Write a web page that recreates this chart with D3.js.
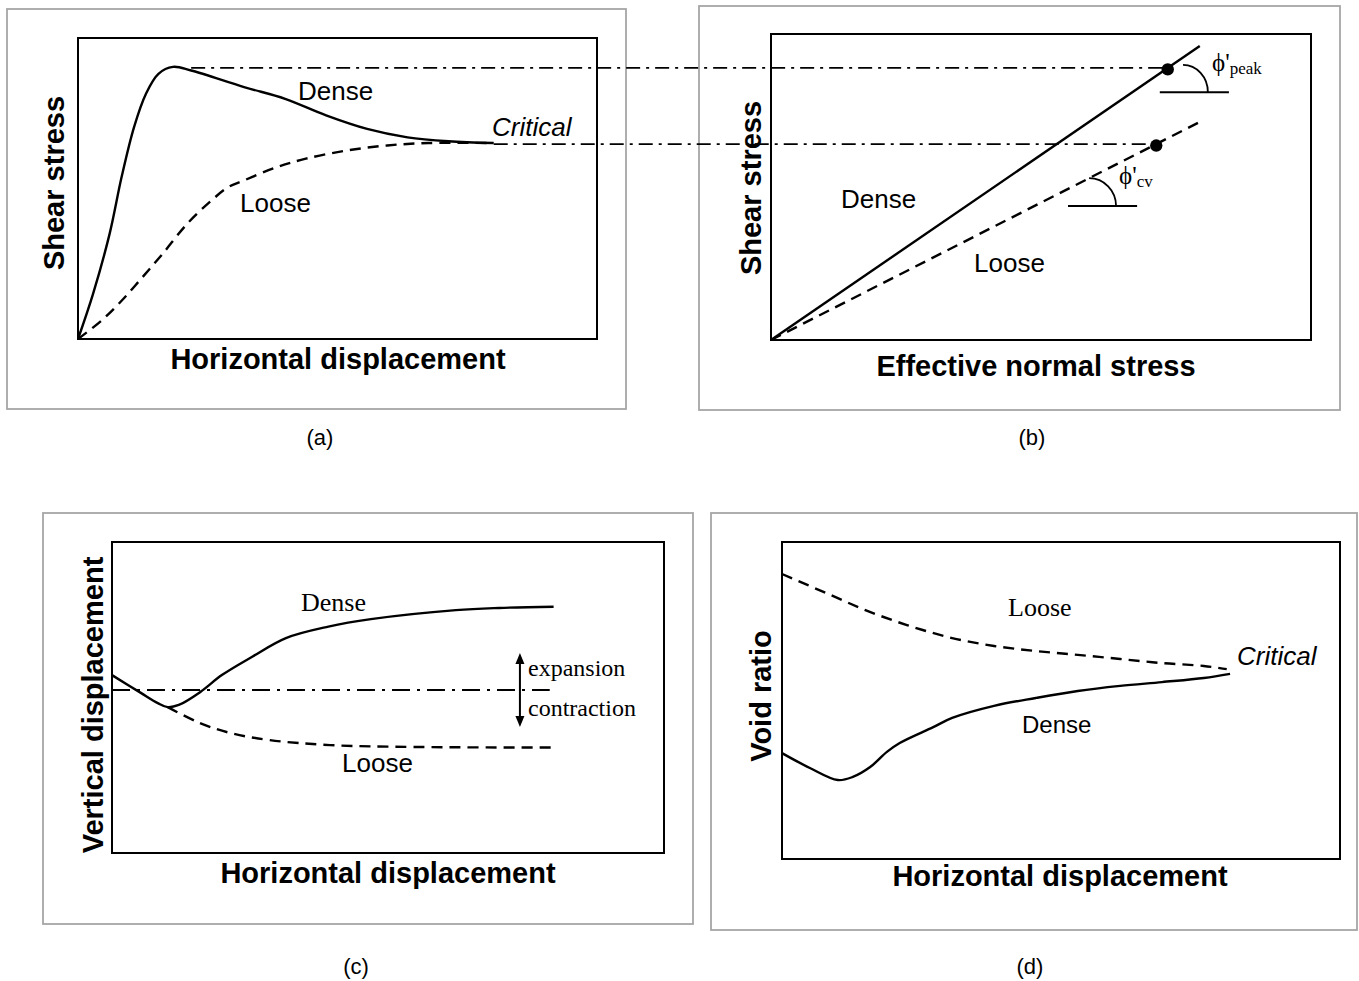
<!DOCTYPE html>
<html><head><meta charset="utf-8">
<script src="https://cdn.jsdelivr.net/npm/d3@7"></script>
<style>body{margin:0;background:#fff} svg{display:block}</style>
</head><body><svg id="chart" width="1359" height="981"></svg>
<script>
// ---------------- data (schematic values, 0-100 units) ----------------
const captions = ["(a)", "(b)", "(c)", "(d)"];

// (a) shear stress vs horizontal displacement
const denseShearA = [[0,0],[2.9,15],[6.1,35],[8.4,53.8],[10.8,70.4],[13.1,81.5],[15.5,88.1],[18.3,90.4],[21.8,89.2],[32,83.7],[39.9,79.8],[47.8,74.3],[55.7,69.8],[63.5,67],[71.4,65.7],[80.1,65.1]];
const looseShearA = [[0,0],[4.5,6.1],[8.4,12.7],[12.4,20.5],[16.3,28.3],[21,38.2],[25.7,46],[28.9,50.4],[32,52.7],[38.3,57.1],[43.9,59.9],[51.7,62.6],[59.6,64.3],[67.5,65.1],[80.1,65.1]];
const peakConnectorStartA = 21.8;   // x where the peak-stress projection starts

// (b) failure envelopes
const denseEnvelopeB = [[0,0],[79.4,96.1]];
const looseEnvelopeB = [[0,0],[79.1,71.0]];

// (c) vertical displacement vs horizontal displacement
const denseVertC = [[0,57.2],[5.3,51.4],[8.3,48.2],[10.1,46.9],[12.1,47.6],[16.1,51.9],[19.9,57.2],[25.4,63.1],[31.5,69.1],[39.2,72.8],[46.9,75.2],[62.3,78.1],[70.1,78.8],[80,79.2]];
const looseVertC = [[10.1,46.9],[15.9,41.8],[21.4,38.6],[28.6,36.3],[39.5,34.7],[54.7,34.1],[80.1,33.9]];
const zeroLineC = [[0,52.4],[79.3,52.4]];
const volumeArrowC = [[73.9,64.3],[73.9,40.5]];

// (d) void ratio vs horizontal displacement
const looseVoidD = [[0,89.9],[7.9,83.9],[15.4,78.2],[22.9,73.5],[30.5,69.7],[38,67.2],[45.5,65.6],[53,64.4],[60.6,63.1],[68.1,61.8],[75.6,60.9],[79.7,59.9]];
const denseVoidD = [[0,33.4],[5,28.7],[10,24.9],[12.7,25.9],[15.8,29],[18.8,33.8],[21.1,36.6],[27.1,41.6],[30.5,44.5],[38,48.3],[45.5,50.8],[53,53],[60.6,54.6],[68.1,55.8],[75.6,57.1],[80.3,58.4]];

// ---------------- layout ----------------
const svg = d3.select("#chart");
const SANS = "'Liberation Sans', Arial, sans-serif";
const SERIF = "'Liberation Serif', 'Times New Roman', serif";
const DASH = "11,7";
const DASHDOT = "14,6,3,6";
const LW = 2.4;

const layout = {
  a: {outer:[7,9,626,409],   inner:[78,38,597,339]},
  b: {outer:[699,6,1340,410], inner:[771,34,1311,340]},
  c: {outer:[43,513,693,924], inner:[112,542,664,853]},
  d: {outer:[711,513,1357,930], inner:[782,542,1340,859]}
};

function makePanel(L) {
  const [x0,y0,x1,y1] = L.inner;
  const [ox0,oy0,ox1,oy1] = L.outer;
  svg.append("rect").attr("x",ox0).attr("y",oy0).attr("width",ox1-ox0).attr("height",oy1-oy0)
    .attr("fill","none").attr("stroke","#a6a6a6").attr("stroke-width",1.8);
  const x = d3.scaleLinear().domain([0,100]).range([x0,x1]);
  const y = d3.scaleLinear().domain([0,100]).range([y1,y0]);
  const g = svg.append("g");
  return {x, y, g};
}
function frame(P, L) {
  const [x0,y0,x1,y1] = L.inner;
  P.g.append("rect").attr("x",x0).attr("y",y0).attr("width",x1-x0).attr("height",y1-y0)
    .attr("fill","none").attr("stroke","#000").attr("stroke-width",2);
}
function curve(P, data, dash, width, smooth=true) {
  const line = d3.line().x(d=>P.x(d[0])).y(d=>P.y(d[1]))
    .curve(smooth ? d3.curveCatmullRom.alpha(0.5) : d3.curveLinear);
  P.g.append("path").attr("d", line(data)).attr("fill","none").attr("stroke","#000")
    .attr("stroke-width", width || LW).attr("stroke-dasharray", dash || null)
    .attr("stroke-linejoin","round");
}
function text(str, x, y, opts={}) {
  const t = svg.append("text").attr("x",x).attr("y",y).text(str)
    .attr("font-family", opts.family || SANS).attr("font-size", opts.size || 26)
    .attr("font-weight", opts.weight || "normal").attr("font-style", opts.style || "normal")
    .attr("text-anchor", opts.anchor || "start").attr("fill","#000");
  if (opts.rotate) t.attr("transform", `rotate(-90,${x},${y})`);
  return t;
}
function axisLabels(xl, xc, xb, yl, yc, yb) {
  text(xl, xc, xb, {weight:"bold", size:29, anchor:"middle"});
  text(yl, yb, yc, {weight:"bold", size:29, anchor:"middle", rotate:true});
}

// ---------------- (a) ----------------
const A = makePanel(layout.a);
curve(A, looseShearA, DASH);
curve(A, denseShearA);
frame(A, layout.a);
text("Dense", 298, 100);
text("Critical", 492, 136, {style:"italic"});
text("Loose", 240, 212);
axisLabels("Horizontal displacement", 338, 369, "Shear stress", 183, 64);

// ---------------- (b) ----------------
const B = makePanel(layout.b);
curve(B, looseEnvelopeB, DASH, LW, false);
curve(B, denseEnvelopeB, null, LW, false);
frame(B, layout.b);
text("Dense", 841, 208);
text("Loose", 974, 272);
axisLabels("Effective normal stress", 1036, 376, "Shear stress", 188, 761);

// projections of peak & critical stresses from (a) to (b)
const peakTau = d3.max(denseShearA, d=>d[1]);
const critPt = denseShearA[denseShearA.length-1];
const slopeDense = denseEnvelopeB[1][1]/denseEnvelopeB[1][0];
const slopeLoose = looseEnvelopeB[1][1]/looseEnvelopeB[1][0];

function projection(xStartPx, yPx, slope) {
  const tauB = B.y.invert(yPx);
  const sigB = tauB / slope;
  const xEnd = B.x(sigB);
  svg.append("line").attr("x1",xStartPx).attr("x2",xEnd).attr("y1",yPx).attr("y2",yPx)
    .attr("stroke","#000").attr("stroke-width",1.7).attr("stroke-dasharray",DASHDOT);
  svg.append("circle").attr("cx",xEnd).attr("cy",yPx+1.5).attr("r",6.2).attr("fill","#000");
}
projection(A.x(peakConnectorStartA), A.y(peakTau)+1, slopeDense);
projection(A.x(critPt[0]), A.y(critPt[1])+1, slopeLoose);

// friction angle symbols
function angleMark(P, h0, h1, hy, from, to) {
  P.g.append("line").attr("x1",P.x(h0)).attr("x2",P.x(h1)).attr("y1",P.y(hy)).attr("y2",P.y(hy))
    .attr("stroke","#000").attr("stroke-width",2);
  const fx=P.x(from[0]), fy=P.y(from[1]), tx=P.x(to[0]), ty=P.y(to[1]);
  P.g.append("path").attr("d",`M${fx},${fy} A${tx-fx},${ty-fy} 0 0 1 ${tx},${ty}`)
    .attr("fill","none").attr("stroke","#000").attr("stroke-width",1.8);
}
angleMark(B, 72, 84.8, 81, [76.3,89.9], [80.9,81]);
angleMark(B, 55, 67.8, 43.8, [58.9,52.9], [63.9,43.8]);

function phiLabel(sub, x, y) {
  const t = svg.append("text").attr("x",x).attr("y",y).attr("font-family",SERIF).attr("font-size",25);
  t.append("tspan").text("\u03D5'");
  t.append("tspan").text(sub).attr("font-size",17).attr("dy",3);
}
phiLabel("peak", 1212, 71);
phiLabel("cv", 1119, 184);

// ---------------- (c) ----------------
const C = makePanel(layout.c);
curve(C, zeroLineC, "18,7,3,7", 2, false);
curve(C, looseVertC, DASH);
curve(C, denseVertC);
frame(C, layout.c);
// double arrow
(function(){
  const xa = C.x(volumeArrowC[0][0]), yTop = C.y(volumeArrowC[0][1]), yBot = C.y(volumeArrowC[1][1]);
  C.g.append("line").attr("x1",xa).attr("x2",xa).attr("y1",yTop+8).attr("y2",yBot-8)
    .attr("stroke","#000").attr("stroke-width",2);
  C.g.append("path").attr("d",`M${xa},${yTop} L${xa-4.5},${yTop+11} L${xa+4.5},${yTop+11} Z`).attr("fill","#000");
  C.g.append("path").attr("d",`M${xa},${yBot} L${xa-4.5},${yBot-11} L${xa+4.5},${yBot-11} Z`).attr("fill","#000");
})();
text("Dense", 301, 611, {family:SERIF, size:26});
text("expansion", 528, 676, {family:SERIF, size:24});
text("contraction", 528, 716, {family:SERIF, size:24});
text("Loose", 342, 772);
axisLabels("Horizontal displacement", 388, 883, "Vertical displacement", 705, 103);

// ---------------- (d) ----------------
const D = makePanel(layout.d);
curve(D, looseVoidD, DASH);
curve(D, denseVoidD);
frame(D, layout.d);
text("Loose", 1008, 616, {family:SERIF, size:26});
text("Critical", 1237, 665, {style:"italic"});
text("Dense", 1022, 733, {size:24});
axisLabels("Horizontal displacement", 1060, 886, "Void ratio", 696, 771);

// ---------------- captions ----------------
const capPos = [[320,445],[1032,445],[356,974],[1030,974]];
captions.forEach((c,i)=>text(c, capPos[i][0], capPos[i][1], {size:22, anchor:"middle"}));
</script></body></html>
